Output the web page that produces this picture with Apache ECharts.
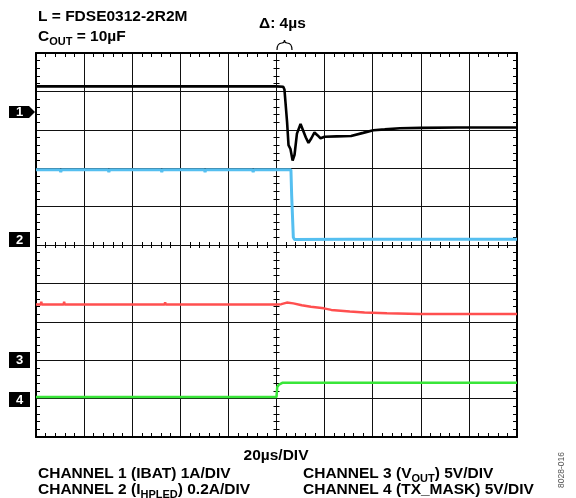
<!DOCTYPE html>
<html><head><meta charset="utf-8">
<script src="https://cdn.jsdelivr.net/npm/echarts@6/dist/echarts.min.js"></script>
<style>html,body{margin:0;padding:0;background:#fff}#c{width:576px;height:498px}</style>
</head><body><div id="c"></div>
<script>
// Time in µs (20 µs/DIV, 10 divisions), level in screen divisions (0 = bottom, 10 = top)
const timeTicks = [0, 20, 40, 60, 80, 100, 120, 140, 160, 180, 200];

const ch1Time  = [0, 60, 60.3, 60.6, 100, 102.8, 103.3, 104.0, 104.4, 105.0, 105.8, 106.7, 107.5, 108.5, 110.0, 110.8, 112.2, 113.3, 114.5, 115.8, 117.0, 118.3, 120.0, 125.0, 131.0, 136.0, 140.3, 145.0, 151.3, 160.0, 175.0, 185.0, 185.3, 185.6, 192.0, 192.3, 192.6, 200];
const ch1Level = [9.13, 9.13, 9.1, 9.13, 9.13, 9.12, 9.05, 9.0, 8.2, 7.6, 7.5, 7.2, 7.35, 7.9, 8.15, 8.1, 7.8, 7.66, 7.78, 7.93, 7.86, 7.78, 7.82, 7.83, 7.84, 7.92, 7.99, 8.01, 8.04, 8.05, 8.06, 8.06, 8.1, 8.06, 8.06, 8.1, 8.06, 8.06];

const ch2Time  = [0, 10, 10.3, 10.6, 30, 30.3, 30.6, 52, 52.3, 52.6, 70, 70.3, 70.6, 90, 90.3, 90.6, 106.0, 106.3, 106.6, 107.0, 107.5, 130, 130.3, 130.6, 160, 160.3, 160.6, 185, 185.3, 185.6, 200];
const ch2Level = [6.96, 6.96, 6.9, 6.96, 6.96, 6.9, 6.96, 6.96, 6.9, 6.96, 6.96, 6.9, 6.96, 6.96, 6.9, 6.96, 6.96, 6.3, 6.25, 5.2, 5.14, 5.15, 5.11, 5.15, 5.15, 5.11, 5.15, 5.15, 5.19, 5.15, 5.15];

const ch3Time  = [0, 2.0, 2.2, 2.4, 11.5, 11.7, 11.9, 53.5, 53.7, 53.9, 100, 102, 104.3, 107, 110.5, 114.3, 119.7, 122.8, 130.5, 136.6, 145.9, 159.7, 200];
const ch3Level = [3.45, 3.45, 3.52, 3.45, 3.45, 3.52, 3.45, 3.45, 3.51, 3.45, 3.45, 3.46, 3.50, 3.48, 3.43, 3.39, 3.35, 3.31, 3.27, 3.24, 3.22, 3.20, 3.20];

const ch4Time  = [0, 100, 100.3, 101.0, 102.4, 200];
const ch4Level = [1.04, 1.04, 1.30, 1.36, 1.41, 1.41];

const channelNames = ['1', '2', '3', '4'];
const traceColors = ['#000000', '#55bff0', '#ff4f4f', '#39e639'];

const zip = (t, v) => t.map((x, i) => [x, v[i]]);

const chart = echarts.init(document.getElementById('c'), null, {renderer: 'canvas'});
const FONT = '"Liberation Sans", Arial, Helvetica, sans-serif';
const tickLine = {color: '#000', width: 1};

function xAx(pos, extra) {
  return Object.assign({
    type: 'value', min: 0, max: 200, interval: 20, position: pos,
    axisLine: {show: true, onZero: false, lineStyle: {color: '#000', width: 2}},
    axisTick: {show: false, inside: true},
    minorTick: {show: true, splitNumber: 5, length: 4, lineStyle: tickLine},
    axisLabel: {show: false}, splitLine: {show: false}
  }, extra || {});
}
function yAx(pos, extra) {
  return Object.assign({
    type: 'value', min: 0, max: 10, interval: 1, position: pos,
    axisLine: {show: true, onZero: false, lineStyle: {color: '#000', width: 2}},
    axisTick: {show: false, inside: true},
    minorTick: {show: true, splitNumber: 5, length: 4, lineStyle: tickLine},
    axisLabel: {show: false}, splitLine: {show: false}
  }, extra || {});
}

const mainStyle = {fontFamily: FONT, fontWeight: 'bold', fontSize: 15.5, fill: '#000'};
const richSub = {sub: {fontFamily: FONT, fontWeight: 'bold', fontSize: 11, padding: [10, 0, 0, 0]}};
function txt(x, y, text, align, rich) {
  const st = Object.assign({}, mainStyle, {text: text, align: align || 'left', verticalAlign: 'middle',
      textAlign: align || 'left', textVerticalAlign: 'middle'});
  if (rich) st.rich = rich;
  return {type: 'text', x: x, y: y, silent: true, style: st};
}
function marker(label, y0, h, arrow) {
  const children = [];
  if (arrow) {
    children.push({type: 'polygon', shape: {points: [[9, y0], [29, y0], [35, y0 + h / 2], [29, y0 + h], [9, y0 + h]]}, style: {fill: '#000'}});
  } else {
    children.push({type: 'rect', shape: {x: 9, y: y0, width: 21, height: h}, style: {fill: '#000'}});
  }
  children.push({type: 'text', x: 19.5, y: y0 + h / 2 + 0.5, style: {text: label, fontFamily: FONT, fontWeight: 'bold', fontSize: 13, fill: '#fff', align: 'center', verticalAlign: 'middle', textAlign: 'center', textVerticalAlign: 'middle'}});
  return {type: 'group', silent: true, children: children};
}
function bez(x1, y1, cx1, cy1, cx2, cy2, x2, y2) {
  return {type: 'bezierCurve', silent: true, shape: {x1: x1, y1: y1, x2: x2, y2: y2, cpx1: cx1, cpy1: cy1, cpx2: cx2, cpy2: cy2},
    style: {fill: null, stroke: '#000', lineWidth: 1.2}};
}

const option = {
  animation: false,
  backgroundColor: '#fff',
  grid: {left: 36, top: 53, width: 481, height: 384, containLabel: false},
  xAxis: [
    xAx('bottom', {splitLine: {show: true, lineStyle: {color: '#111', width: 1}}}),
    xAx('top'),
    xAx('bottom', {offset: -189, axisLine: {show: false, onZero: false}, minorTick: {show: true, splitNumber: 5, length: 6, lineStyle: tickLine}})
  ],
  yAxis: [
    yAx('left', {splitLine: {show: true, lineStyle: {color: '#111', width: 1}}}),
    yAx('right'),
    yAx('left', {offset: -237.5, axisLine: {show: false, onZero: false}, minorTick: {show: true, splitNumber: 5, length: 6, lineStyle: tickLine}})
  ],
  series: [
    {name: 'CH' + channelNames[0], type: 'line', data: zip(ch1Time, ch1Level), showSymbol: false, lineStyle: {color: traceColors[0], width: 2.6}, z: 5},
    {name: 'CH' + channelNames[1], type: 'line', data: zip(ch2Time, ch2Level), showSymbol: false, lineStyle: {color: traceColors[1], width: 3}, z: 4},
    {name: 'CH' + channelNames[2], type: 'line', data: zip(ch3Time, ch3Level), showSymbol: false, lineStyle: {color: traceColors[2], width: 2.5}, z: 4},
    {name: 'CH' + channelNames[3], type: 'line', data: zip(ch4Time, ch4Level), showSymbol: false, lineStyle: {color: traceColors[3], width: 2.5}, z: 4}
  ],
  graphic: [
    txt(38, 17, 'L = FDSE0312-2R2M'),
    txt(38, 37, 'C{sub|OUT} = 10µF', 'left', richSub),
    txt(259, 24, 'Δ: 4µs'),
    bez(277, 50, 277, 45, 279, 43, 282, 43),
    bez(282, 43, 283.5, 43, 284.5, 42, 284.5, 40),
    bez(284.5, 40, 284.5, 42, 285.5, 43, 287, 43),
    bez(287, 43, 290, 43, 292, 45, 292, 50),
    txt(276, 456, '20µs/DIV', 'center'),
    txt(38, 473.5, 'CHANNEL 1 (IBAT) 1A/DIV'),
    txt(38, 490, 'CHANNEL 2 (I{sub|HPLED}) 0.2A/DIV', 'left', richSub),
    txt(303, 473.5, 'CHANNEL 3 (V{sub|OUT}) 5V/DIV', 'left', richSub),
    txt(303, 490, 'CHANNEL 4 (TX_MASK) 5V/DIV'),
    {type: 'text', x: 562, y: 470, rotation: Math.PI / 2, silent: true,
      style: {text: '8028-016', fontFamily: FONT, fontSize: 8.5, fill: '#555', align: 'center', verticalAlign: 'middle', textAlign: 'center', textVerticalAlign: 'middle'}},
    marker(channelNames[0], 106, 12, true),
    marker(channelNames[1], 232, 15, false),
    marker(channelNames[2], 352, 16, false),
    marker(channelNames[3], 392, 15, false)
  ]
};
chart.setOption(option);
</script>
</body></html>
